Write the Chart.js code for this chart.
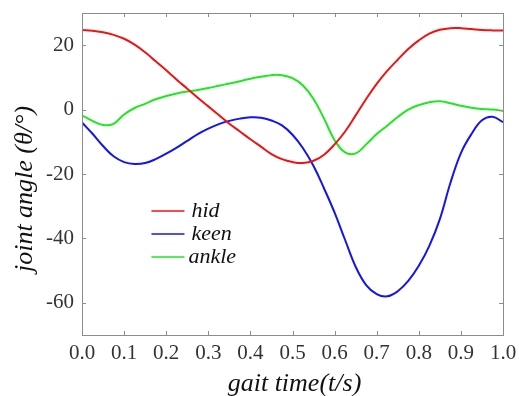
<!DOCTYPE html>
<html>
<head>
<meta charset="utf-8">
<script src="https://cdn.jsdelivr.net/npm/chart.js@4/dist/chart.umd.min.js"></script>
<style>
html,body{margin:0;padding:0;background:#fff;}
#wrap{width:519px;height:396px;position:relative;}
</style>
</head>
<body>
<div id="wrap"><canvas id="c" width="519" height="396"></canvas></div>
<script>
const times = [0,0.025,0.05,0.075,0.1,0.125,0.15,0.175,0.2,0.225,0.25,0.275,0.3,0.325,0.35,0.375,0.4,0.425,0.45,0.475,0.5,0.525,0.55,0.575,0.6,0.625,0.65,0.675,0.7,0.725,0.75,0.775,0.8,0.825,0.85,0.875,0.9,0.925,0.95,0.975,1.0];
const hid = [24.7,24.5,24.0,23.2,22.0,20.2,17.8,15.0,12.2,9.3,6.5,3.7,1.0,-1.7,-4.4,-6.8,-9.2,-11.5,-13.8,-15.4,-16.3,-16.6,-15.9,-14.0,-10.8,-6.8,-1.8,3.3,8.0,12.0,15.5,18.8,21.5,23.6,24.8,25.3,25.3,25.0,24.7,24.6,24.6];
const keen = [-4.0,-7.5,-11.3,-14.5,-16.3,-16.9,-16.6,-15.4,-13.7,-11.8,-9.7,-7.6,-5.9,-4.5,-3.5,-2.8,-2.4,-2.5,-3.4,-4.9,-7.8,-12.0,-17.5,-24.5,-32.0,-40.5,-48.8,-54.5,-57.3,-58.0,-56.4,-53.2,-48.5,-42.3,-34.0,-22.8,-13.5,-7.6,-3.3,-2.2,-3.9];
const ankle = [-1.8,-3.5,-4.8,-4.4,-1.5,0.5,1.8,3.2,4.2,5.0,5.6,6.1,6.7,7.4,8.1,8.8,9.6,10.2,10.7,10.7,9.8,7.5,3.3,-2.8,-9.5,-13.3,-13.6,-10.8,-7.6,-5.0,-2.3,0.0,1.4,2.3,2.6,2.0,1.2,0.6,0.2,0.0,-0.4];
const seriesLabels = ['hid','keen','ankle'];
const xTickValues = [0,0.1,0.2,0.3,0.4,0.5,0.6,0.7,0.8,0.9,1.0];
const yTickValues = [-60,-40,-20,0,20];
const xTitle = 'gait time(t/s)';
const yTitle = 'joint angle (θ/°)';

const colors = ['rgb(242,18,18)','rgb(20,20,240)','rgb(30,232,30)'];
const allSeries = [hid, keen, ankle];

const serif = "'Liberation Serif','Times New Roman',serif";

const datasets = allSeries.map((s,i)=>({
  label: seriesLabels[i],
  data: s.map((v,k)=>({x: times[k], y: v})),
  borderColor: colors[i],
  borderWidth: 2,
  pointRadius: 0,
  tension: 0.4,
  fill: false
}));

const frameTicks = {
  id: 'frameTicks',
  afterDraw(chart){
    const {ctx, chartArea:a, scales:{x,y}} = chart;
    ctx.save();
    ctx.strokeStyle = '#8c8c8c';
    ctx.lineWidth = 1;
    ctx.strokeRect(Math.round(a.left)+0.5, Math.round(a.top)+0.5, Math.round(a.right-a.left), Math.round(a.bottom-a.top));
    const L = 4;
    ctx.beginPath();
    xTickValues.forEach(v=>{
      const px = Math.round(x.getPixelForValue(v))+0.5;
      ctx.moveTo(px, a.bottom); ctx.lineTo(px, a.bottom-L);
      ctx.moveTo(px, a.top); ctx.lineTo(px, a.top+L);
    });
    yTickValues.forEach(v=>{
      const py = Math.round(y.getPixelForValue(v))+0.5;
      ctx.moveTo(a.left, py); ctx.lineTo(a.left+L, py);
      ctx.moveTo(a.right, py); ctx.lineTo(a.right-L, py);
    });
    ctx.stroke();
    // legend inside plot
    const lx = x.getPixelForValue(0.165), ly0 = y.getPixelForValue(-31.5);
    const gap = 23;
    ctx.font = "italic 22px " + serif;
    ctx.textBaseline = 'middle';
    ctx.textAlign = 'left';
    chart.data.datasets.forEach((d,i)=>{
      const yy = ly0 + i*gap;
      ctx.strokeStyle = d.borderColor;
      ctx.lineWidth = 1.5;
      ctx.beginPath();
      ctx.moveTo(lx, yy); ctx.lineTo(lx+33, yy);
      ctx.stroke();
      ctx.fillStyle = '#111';
      ctx.fillText(d.label, lx + (i===2 ? 37 : 40), yy);
    });
    // axis titles
    ctx.fillStyle = '#111';
    ctx.font = "italic 26px " + serif;
    ctx.textAlign = 'center';
    ctx.textBaseline = 'alphabetic';
    ctx.fillText(xTitle, (a.left + a.right)/2 + 2, 391);
    ctx.save();
    ctx.translate(32, (a.top + a.bottom)/2 + 15);
    ctx.rotate(-Math.PI/2);
    ctx.fillText(yTitle, 0, 0);
    ctx.restore();
    ctx.restore();
  }
};

new Chart(document.getElementById('c'), {
  type: 'line',
  data: { datasets },
  options: {
    responsive: false,
    animation: false,
    layout: { padding: { left: 0, right: 16, top: 13, bottom: 0 } },
    plugins: { legend: { display: false }, tooltip: { enabled: false } },
    scales: {
      x: {
        type: 'linear', min: 0, max: 1,
        afterBuildTicks: s => { s.ticks = xTickValues.map(v=>({value:v})); },
        afterFit: s => { s.height = 61; s.paddingLeft = 0; s.paddingRight = 0; },
        ticks: { callback: v => Number(v).toFixed(1), font: { family: serif, size: 21 }, color: '#333', padding: 6, maxRotation: 0, autoSkip: false },
        grid: { display: false, drawTicks: false },
        border: { display: false }
      },
      y: {
        min: -70, max: 30,
        afterBuildTicks: s => { s.ticks = yTickValues.map(v=>({value:v})); },
        afterFit: s => { s.width = 82; s.paddingTop = 0; s.paddingBottom = 0; },
        ticks: { font: { family: serif, size: 21 }, color: '#333', padding: 8 },
        grid: { display: false, drawTicks: false },
        border: { display: false }
      }
    }
  },
  plugins: [frameTicks]
});
</script>
</body>
</html>
